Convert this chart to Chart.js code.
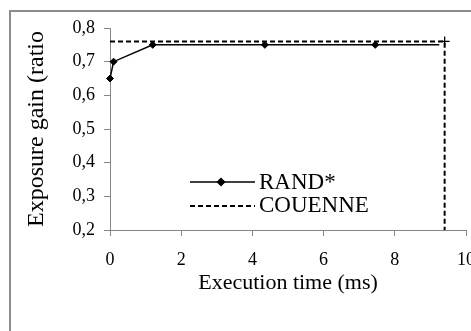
<!DOCTYPE html>
<html>
<head>
<meta charset="utf-8">
<script src="https://cdn.jsdelivr.net/npm/chart.js@4/dist/chart.umd.min.js"></script>
<style>
  html, body { margin: 0; padding: 0; background: #fff; }
  #wrap { position: relative; width: 471px; height: 331px; }
</style>
</head>
<body>
<div id="wrap"><canvas id="gainChart"></canvas></div>
<script>
// data
const seriesLabels = ["RAND*", "COUENNE"];
const randTimes = [0, 0.1, 1.2, 4.35, 7.45, 9.25];
const randGains = [0.65, 0.70, 0.75, 0.75, 0.75, 0.75];
const couenneTimes = [0, 9.4, 9.4];
const couenneGains = [0.76, 0.76, 0.2];
const xTicks = [0, 2, 4, 6, 8, 10];
const yTicks = [0.2, 0.3, 0.4, 0.5, 0.6, 0.7, 0.8];

const serif = "'Liberation Serif', 'Times New Roman', serif";
const axisGrey = "#868686";

// outer frame (only left and top edges are visible)
const framePlugin = {
  id: "frame",
  beforeDraw(chart) {
    const ctx = chart.ctx;
    ctx.save();
    ctx.fillStyle = "#8c8c8c";
    ctx.fillRect(9, 10, 2, 321);
    ctx.fillRect(9, 10, 462, 2);
    ctx.restore();
  }
};

// legend sits inside the plot area
const insideLegend = {
  id: "insideLegend",
  afterDraw(chart) {
    const ctx = chart.ctx;
    const rows = [182, 206];
    const baselines = [189, 212];
    ctx.save();
    chart.data.datasets.forEach((ds, i) => {
      const y = rows[i];
      ctx.strokeStyle = ds.borderColor;
      ctx.lineWidth = ds.borderWidth;
      ctx.setLineDash(ds.borderDash || []);
      ctx.beginPath();
      ctx.moveTo(190, y);
      ctx.lineTo(255, y);
      ctx.stroke();
      ctx.setLineDash([]);
      if (i === 0) {
        ctx.fillStyle = "#000";
        Chart.helpers.drawPoint(ctx, { pointStyle: "rectRot", radius: 3.5, borderWidth: 1 }, 221, y);
      }
      ctx.fillStyle = "#000";
      ctx.font = "23px " + serif;
      ctx.textAlign = "left";
      ctx.textBaseline = "alphabetic";
      ctx.fillText(ds.label, 259, baselines[i]);
    });
    ctx.restore();
  }
};

const ctx = document.getElementById("gainChart").getContext("2d");
new Chart(ctx, {
  type: "line",
  data: {
    datasets: [
      {
        label: seriesLabels[0],
        data: randTimes.map((t, i) => ({ x: t, y: randGains[i] })),
        borderColor: "#000",
        backgroundColor: "#000",
        borderWidth: 1.5,
        pointStyle: "rectRot",
        pointRadius: randTimes.map((t, i) => (i === randTimes.length - 1 ? 0 : 3.5)),
        pointBorderWidth: 1,
        pointBackgroundColor: "#000",
        pointBorderColor: "#000",
        tension: 0,
        clip: false
      },
      {
        label: seriesLabels[1],
        data: couenneTimes.map((t, i) => ({ x: t, y: couenneGains[i] })),
        borderColor: "#000",
        backgroundColor: "#000",
        borderWidth: 2,
        borderDash: [5, 3],
        pointStyle: "cross",
        pointRadius: [0, 5, 0],
        pointBorderWidth: 1.3,
        pointBorderColor: "#000",
        tension: 0,
        clip: false
      }
    ]
  },
  options: {
    responsive: true,
    maintainAspectRatio: false,
    animation: false,
    layout: { padding: { top: 28, right: 5, bottom: 0, left: 0 } },
    plugins: {
      legend: { display: false },
      tooltip: { enabled: false }
    },
    scales: {
      x: {
        type: "linear",
        min: xTicks[0],
        max: xTicks[xTicks.length - 1],
        afterBuildTicks: s => { s.ticks = xTicks.map(v => ({ value: v })); },
        ticks: {
          color: "#000",
          font: { family: serif, size: 18 },
          padding: 13,
          maxRotation: 0,
          callback: v => String(v)
        },
        grid: { drawOnChartArea: false, tickLength: 6, color: axisGrey, tickColor: axisGrey },
        border: { color: axisGrey, width: 1 },
        title: {
          display: true,
          text: "Execution time (ms)",
          color: "#000",
          font: { family: serif, size: 22 },
          padding: { top: 0, bottom: 35 }
        },
        afterFit: s => { s.height = 101; s.paddingLeft = 0; s.paddingRight = 0; }
      },
      y: {
        min: yTicks[0],
        max: yTicks[yTicks.length - 1],
        afterBuildTicks: s => { s.ticks = yTicks.map(v => ({ value: v })); },
        ticks: {
          color: "#000",
          font: { family: serif, size: 18 },
          padding: 9,
          callback: v => v.toFixed(1).replace(".", ",")
        },
        grid: { drawOnChartArea: false, tickLength: 6, color: axisGrey, tickColor: axisGrey },
        border: { color: axisGrey, width: 1 },
        title: {
          display: true,
          text: "Exposure gain (ratio",
          color: "#000",
          font: { family: serif, size: 24 },
          padding: { top: 22, bottom: 0 }
        },
        afterFit: s => { s.width = 110; s.paddingTop = 0; s.paddingBottom = 0; }
      }
    }
  },
  plugins: [framePlugin, insideLegend]
});
</script>
</body>
</html>
